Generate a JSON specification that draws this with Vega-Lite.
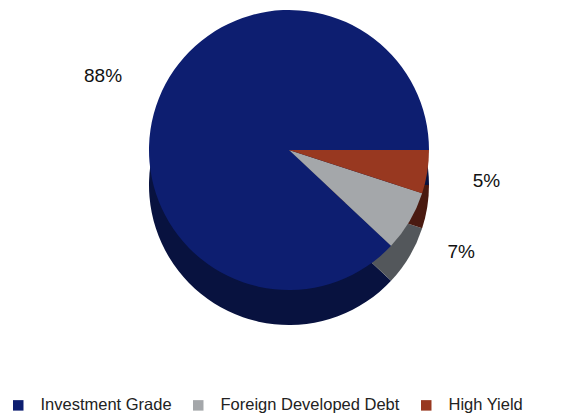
{
  "$schema": "https://vega.github.io/schema/vega-lite/v6.json",
  "width": 578,
  "height": 300,
  "padding": 0,
  "background": "white",
  "config": {"view": {"stroke": null}, "font": "Liberation Sans"},
  "data": {"values": [
    {"category": "Investment Grade", "share": 0.88},
    {"category": "Foreign Developed Debt", "share": 0.07},
    {"category": "High Yield", "share": 0.05}
  ]},
  "encoding": {
    "theta": {"field": "share", "type": "quantitative", "stack": true, "scale": {"range": [1.5708, 7.854]}},
    "order": {"field": "share", "type": "quantitative", "sort": "ascending"}
  },
  "layer": [
    {
      "mark": {"type": "arc", "outerRadius": 140, "yOffset": 35},
      "encoding": {
        "color": {"field": "category", "type": "nominal", "legend": null,
          "scale": {"domain": ["Investment Grade", "Foreign Developed Debt", "High Yield"], "range": ["#08123f", "#53575b", "#4a1a10"]}}
      }
    },
    {
      "mark": {"type": "arc", "outerRadius": 140},
      "encoding": {
        "color": {"field": "category", "type": "nominal",
          "scale": {"domain": ["Investment Grade", "Foreign Developed Debt", "High Yield"], "range": ["#0d1e70", "#a4a7aa", "#983820"]},
          "legend": {"title": null, "orient": "bottom", "direction": "horizontal", "symbolType": "square", "symbolSize": 110, "symbolStrokeWidth": 0, "labelFontSize": 16.5, "labelColor": "#222", "labelLimit": 0, "columnPadding": 18, "offset": 87, "padding": 10, "labelOffset": 14}}
      }
    },
    {
      "mark": {"type": "text", "radius": 200, "fontSize": 19, "color": "#111"},
      "encoding": {
        "text": {"field": "share", "type": "quantitative", "format": ".0%"}
      }
    }
  ],
  "resolve": {"scale": {"color": "independent"}}
}
